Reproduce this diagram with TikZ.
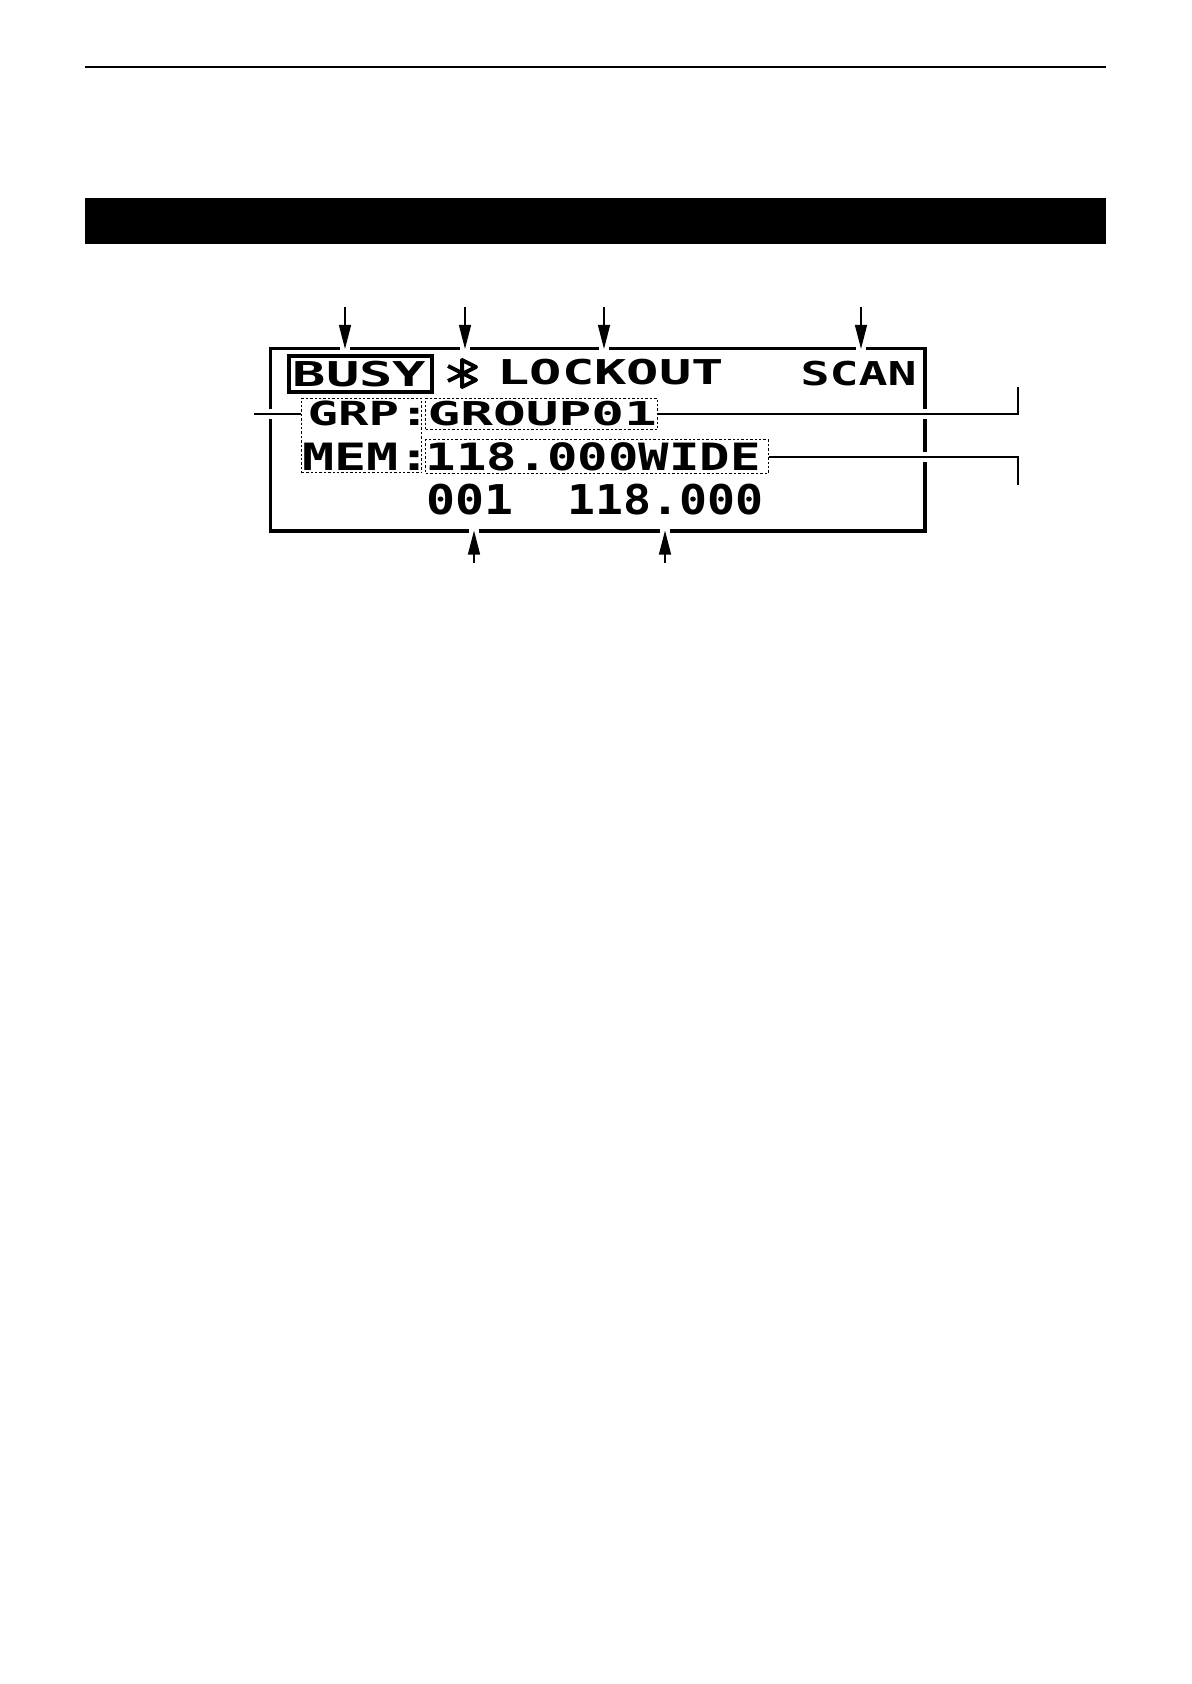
\documentclass[tikz,border=0pt]{standalone}
\usepackage{fontspec}
\newfontfamily\lcdfont{DejaVu Sans Mono}
\usetikzlibrary{arrows.meta, fit}
\tikzset{
  lcdbox/.style={draw, line width=1.6pt, inner sep=0pt},
  busybox/.style={draw, line width=2pt, inner sep=0pt},
  dotbox/.style={draw, line width=0.5pt, dash pattern=on 1.2pt off 1pt, inner sep=0pt},
  lcdtext/.style={font=\lcdfont\bfseries\fontsize{17.1pt}{20pt}\selectfont, inner sep=0pt, anchor=base west},
  callout/.style={line width=0.75pt, -{Triangle[length=12pt,width=6pt]}, shorten >=-1pt,
    preaction={draw=white, line width=5pt, arrows=-, shorten >=-2pt}},
  leader/.style={line width=1pt, preaction={draw=white, line width=5pt, shorten <=3pt, shorten >=3pt}}
}
\begin{document}
\begin{tikzpicture}[x=0.5pt,y=-0.5pt]
	\useasboundingbox (0,0) rectangle (1191,1684);
	\draw[line width=1pt] (85,67.5) -- (1106,67.5);
	\fill (85,198) rectangle (1106,244);
	\node[lcdbox, fit={(270.5,348.5) (925,531)}] (lcd) {};
	\node[busybox, fit={(289,356) (432,392)}] (busyframe) {};
	\node[lcdtext, xscale=1.62] (busy) at (292,387) {BUSY};
	\draw[line width=2pt, line join=round] (448,366) -- (476,380) -- (462,387) -- (462,360) -- (476,367) -- (448,381);
	\node[lcdtext, xscale=1.57] (lockout) at (497,385) {LOCKOUT};
	\node[lcdtext, xscale=1.41, yscale=0.96] (scan) at (800,386) {SCAN};
	\node[dotbox, fit={(301.7,398.3) (421.7,472.7)}] (lblbox) {};
	\node[dotbox, fit={(425.7,398.3) (657.3,430)}] (grpbox) {};
	\node[dotbox, fit={(425.7,440) (768.3,473.3)}] (widebox) {};
	\node[lcdtext, xscale=1.48, yscale=0.97] (grplbl) at (307,426) {GRP:};
	\node[lcdtext, xscale=1.59, yscale=0.96] (grpname) at (427,425.5) {GROUP01};
	\node[lcdtext, xscale=1.56, yscale=1.1] (memlbl) at (302,470) {MEM:};
	\node[lcdtext, xscale=1.48, yscale=1.1] (memfreq) at (425,470) {118.000WIDE};
	\node[lcdtext, xscale=1.41, yscale=1.2] (chnum) at (426,514) {001};
	\node[lcdtext, xscale=1.36, yscale=1.2] (chfreq) at (567,514) {118.000};
	% callouts
	\coordinate (busyarr) at (345,307);
	\coordinate (btarr) at (465,307);
	\coordinate (lockarr) at (604,307);
	\coordinate (scanarr) at (861,307);
	\coordinate (numarr) at (474,563);
	\coordinate (freqarr) at (665,563);
	\draw[callout] (busyarr) -- (busyarr |- lcd.north);
	\draw[callout] (btarr) -- (btarr |- lcd.north);
	\draw[callout] (lockarr) -- (lockarr |- lcd.north);
	\draw[callout] (scanarr) -- (scanarr |- lcd.north);
	\draw[callout] (numarr) -- (numarr |- lcd.south);
	\draw[callout] (freqarr) -- (freqarr |- lcd.south);
	\coordinate (grpend) at (1018,387);
	\coordinate (wideend) at (1018,485);
	\coordinate (lblend) at (254,414);
	\draw[leader] (grpbox.east) -- (grpbox.east -| grpend) -- (grpend);
	\draw[leader] (widebox.east) -- (widebox.east -| wideend) -- (wideend);
	\draw[leader] (lblend) -- (lblend -| lblbox.west);
\end{tikzpicture}
\end{document}
